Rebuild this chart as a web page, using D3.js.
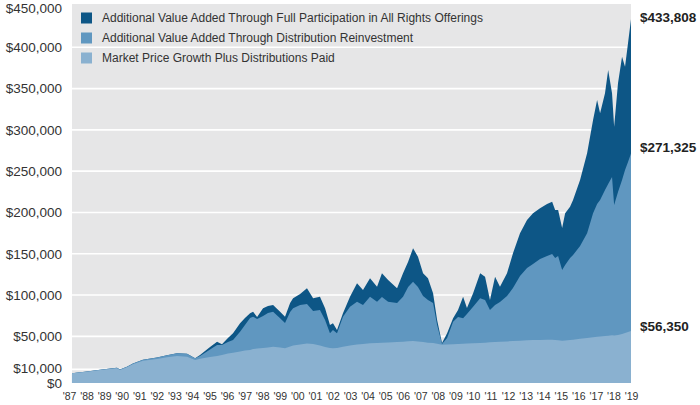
<!DOCTYPE html>
<html>
<head>
<meta charset="utf-8">
<script src="https://cdn.jsdelivr.net/npm/d3@7"></script>
<style>
  html, body { margin: 0; padding: 0; background: #ffffff; }
  svg { display: block; }
  text { font-family: "Liberation Sans", Arial, sans-serif; }
</style>
</head>
<body>
<svg id="chart" width="700" height="405"></svg>
<script>
// ---------------- DATA ----------------
const dates = [1987.17, 1988.03, 1988.77, 1989.73, 1989.90, 1990.30, 1990.64, 1991.21, 1992.01, 1992.58,
  1993.15, 1993.72, 1994.18, 1994.46, 1995.03, 1995.43, 1995.71, 1996.05, 1996.34, 1996.74,
  1997.02, 1997.31, 1997.48, 1997.71, 1998.05, 1998.33, 1998.62, 1999.02, 1999.30, 1999.59,
  1999.76, 2000.16, 2000.55, 2000.90, 2001.29, 2001.58, 2001.86, 2002.03, 2002.26, 2002.60,
  2003.00, 2003.40, 2003.74, 2004.14, 2004.54, 2004.82, 2005.17, 2005.68, 2006.02, 2006.31,
  2006.59, 2006.87, 2007.16, 2007.44, 2007.73, 2007.96, 2008.24, 2008.53, 2008.87, 2009.15,
  2009.44, 2009.66, 2010.01, 2010.41, 2010.69, 2010.97, 2011.26, 2011.54, 2011.94, 2012.28,
  2012.68, 2013.08, 2013.42, 2013.82, 2014.22, 2014.51, 2014.68, 2014.85, 2015.08, 2015.25,
  2015.53, 2015.70, 2016.10, 2016.50, 2016.84, 2017.07, 2017.24, 2017.52, 2017.70, 2017.92,
  2018.04, 2018.26, 2018.49, 2018.66, 2018.83, 2019.00];

// Market Price Growth Plus Distributions Paid
const marketValues = [5200, 7000, 9200, 11300, 9200, 12500, 16200, 20500, 22500, 24600,
  26200, 25300, 21300, 22900, 25000, 26200, 27400, 29200, 30200, 31600,
  32800, 33400, 34600, 35200, 35900, 36500, 37400, 36500, 35500, 37700,
  38900, 40100, 41300, 40700, 38900, 37100, 35900, 35500, 35900, 37400,
  38900, 40100, 40700, 41500, 41900, 42300, 42500, 43100, 43500, 44000,
  44300, 43700, 43100, 42300, 42000, 41000, 39800, 40000, 40400, 40700,
  41000, 41300, 41600, 42000, 42300, 42700, 43000, 43400, 43900, 44300,
  44700, 45200, 45500, 45500, 45800, 45900, 45500, 45200, 44700, 44900,
  45500, 45900, 47100, 48000, 48900, 49400, 49800, 50400, 50700, 51200,
  51000, 51600, 52800, 54000, 55200, 56350];

// Value with Distribution Reinvestment (cumulative)
const reinvestValues = [5400, 7300, 9600, 11900, 9900, 13200, 17200, 21700, 24500, 27200,
  29500, 29000, 23500, 26200, 34100, 39500, 39500, 43100, 45500, 55600,
  63700, 72200, 73800, 71000, 74600, 78200, 79800, 71800, 66100, 79400,
  83900, 87900, 89100, 80700, 81900, 69800, 53700, 57600, 53700, 73800,
  85900, 91900, 87900, 98000, 91900, 97600, 91900, 90300, 98000, 109700,
  116100, 109700, 98800, 94000, 90300, 63700, 40800, 48000, 67700, 73400,
  71800, 77000, 85900, 96000, 94000, 81900, 87900, 91600, 98800, 108500,
  123000, 132700, 137600, 143600, 147300, 149700, 144800, 147300, 130300, 136400,
  144800, 148500, 159400, 174800, 199000, 210200, 215100, 227200, 234500, 242900,
  209000, 224800, 239300, 251400, 261100, 271325];

// Value with Full Participation in All Rights Offerings (cumulative)
const rightsValues = [5400, 7300, 9600, 11900, 9900, 13200, 17200, 21700, 24500, 27200,
  29500, 29000, 23500, 27400, 37100, 43500, 40300, 48000, 53700, 65800,
  72200, 77900, 79800, 73400, 83900, 86700, 87900, 79800, 73800, 90300,
  96000, 101200, 108100, 96000, 98000, 83900, 63700, 65800, 57600, 77900,
  98000, 114200, 106100, 120300, 110100, 126300, 118200, 108100, 126300, 140400,
  156600, 146400, 126300, 120300, 102100, 69800, 42000, 53700, 71800, 81900,
  98000, 84300, 102100, 126300, 122200, 94000, 122200, 110100, 126300, 150500,
  174800, 190900, 199000, 205000, 210200, 213000, 203000, 203000, 181200, 199000,
  207000, 215100, 239300, 271600, 312000, 336200, 320100, 344300, 372500, 344300,
  303800, 356400, 388600, 376500, 404800, 433808];

const seriesNames = [
  "Additional Value Added Through Full Participation in All Rights Offerings",
  "Additional Value Added Through Distribution Reinvestment",
  "Market Price Growth Plus Distributions Paid"
];
const endLabels = ["$433,808", "$271,325", "$56,350"];
const yTickValues = [0, 10000, 50000, 100000, 150000, 200000, 250000, 300000, 350000, 400000, 450000];
const xTickYears = [1987, 1988, 1989, 1990, 1991, 1992, 1993, 1994, 1995, 1996, 1997, 1998, 1999, 2000,
  2001, 2002, 2003, 2004, 2005, 2006, 2007, 2008, 2009, 2010, 2011, 2012, 2013, 2014, 2015, 2016,
  2017, 2018, 2019];
const xTickLabels = ["'87", "'88", "'89", "'90", "'91", "'92", "'93", "'94", "'95", "'96", "'97", "'98",
  "'99", "'00", "'01", "'02", "'03", "'04", "'05", "'06", "'07", "'08", "'09", "'10", "'11", "'12",
  "'13", "'14", "'15", "'16", "'17", "'18", "'19"];

// ---------------- DRAW ----------------
const colors = ["#0d5686", "#6097c0", "#8ab1d0"];
const textColor = "#333333";
const svg = d3.select("#chart");

const x = d3.scaleLinear().domain([1987, 2019]).range([69, 631]);
const y = d3.scaleLinear().domain([-6500, 450000]).range([383, 6]);

const plotLeft = x(dates[0]);
const plotRight = x(dates[dates.length - 1]);
const plotTop = 4;
const plotBottom = 383;

// background
svg.append("rect")
  .attr("x", plotLeft).attr("y", plotTop)
  .attr("width", plotRight - plotLeft).attr("height", plotBottom - plotTop)
  .attr("fill", "#e6e6e7");

// gridlines
svg.append("g").selectAll("line")
  .data(yTickValues.filter(v => v > 0 && v < 450000))
  .join("line")
  .attr("x1", plotLeft).attr("x2", plotRight)
  .attr("y1", d => y(d)).attr("y2", d => y(d))
  .attr("stroke", "#ffffff").attr("stroke-width", 1.6);

// areas
const rows = dates.map((d, i) => ({ date: d, values: [rightsValues[i], reinvestValues[i], marketValues[i]] }));
[0, 1, 2].forEach(k => {
  const area = d3.area()
    .x(d => x(d.date))
    .y0(plotBottom)
    .y1(d => y(d.values[k]));
  svg.append("path")
    .datum(rows)
    .attr("d", area)
    .attr("fill", colors[k]);
});

// y axis labels
const yAxis = d3.axisLeft(y)
  .tickValues(yTickValues)
  .tickSize(0)
  .tickPadding(0)
  .tickFormat(v => "$" + d3.format(",")(v));
const gy = svg.append("g").attr("transform", "translate(62,0)").call(yAxis);
gy.select(".domain").remove();
gy.selectAll("text")
  .attr("fill", textColor)
  .attr("font-size", 13.5)
  .attr("font-family", "'Liberation Sans', Arial, sans-serif")
  .attr("dy", v => v === 0 ? "0.72em" : (v === 450000 ? "0.5em" : (v === 10000 ? "0.24em" : "0.32em")));

// x axis labels
const xAxis = d3.axisBottom(x)
  .tickValues(xTickYears)
  .tickSize(0)
  .tickPadding(0)
  .tickFormat((d, i) => xTickLabels[i]);
const gx = svg.append("g").attr("transform", "translate(0,393)").call(xAxis);
gx.select(".domain").remove();
gx.selectAll("text")
  .attr("fill", textColor)
  .attr("font-size", 10.5)
  .attr("font-family", "'Liberation Sans', Arial, sans-serif");

// end labels
const endValues = [rightsValues[rightsValues.length - 1], reinvestValues[reinvestValues.length - 1], marketValues[marketValues.length - 1]];
const endOffsets = [-2.5, -6.5, -5];
svg.append("g").selectAll("text")
  .data(endLabels)
  .join("text")
  .attr("x", plotRight + 9)
  .attr("y", (d, i) => y(endValues[i]) + endOffsets[i])
  .attr("dy", "0.35em")
  .attr("font-size", 13.5)
  .attr("font-weight", "bold")
  .attr("fill", "#222222")
  .text(d => d);

// legend
const legend = svg.append("g").attr("transform", "translate(81,18)");
seriesNames.forEach((name, i) => {
  const g = legend.append("g").attr("transform", `translate(0,${i * 20})`);
  g.append("rect").attr("x", 0).attr("y", -5.5).attr("width", 11).attr("height", 11).attr("fill", colors[i]);
  g.append("text").attr("x", 21).attr("y", 0).attr("dy", "0.35em")
    .attr("font-size", 12).attr("fill", textColor).text(name);
});
</script>
</body>
</html>
